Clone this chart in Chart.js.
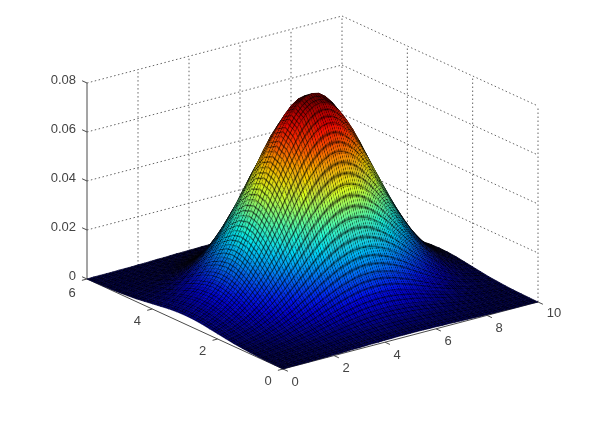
<!DOCTYPE html>
<html>
<head>
<meta charset="utf-8">
<style>
  html, body { margin: 0; padding: 0; background: #fff; }
  canvas { display: block; }
</style>
<script src="https://cdn.jsdelivr.net/npm/chart.js@4"></script>
</head>
<body>
<canvas id="myChart" width="603" height="421"></canvas>
<script>
var xTicks = [0, 2, 4, 6, 8, 10];
var yTicks = [0, 2, 4, 6];
var zTicks = [0, 0.02, 0.04, 0.06, 0.08];
var zTickLabels = ['0', '0.02', '0.04', '0.06', '0.08'];

var xMesh = [0, .25, .5, .75, 1, 1.25, 1.5, 1.75, 2, 2.25, 2.5, 2.75, 3, 3.25, 3.5, 3.75, 4, 4.25, 4.5, 4.75, 5,
    5.25, 5.5, 5.75, 6, 6.25, 6.5, 6.75, 7, 7.25, 7.5, 7.75, 8, 8.25, 8.5, 8.75, 9, 9.25, 9.5, 9.75, 10];
var yMesh = [0, .25, .5, .75, 1, 1.25, 1.5, 1.75, 2, 2.25, 2.5, 2.75, 3, 3.25, 3.5, 3.75, 4, 4.25, 4.5, 4.75, 5, 5.25, 5.5, 5.75, 6];

// heights, one row per yMesh value
var zUnit = 0.000101;
var zRows = [
    [0,1,1,1,1,2,2,2,3,3,4,5,5,6,7,7,8,8,9,9,9,9,9,8,8,7,7,6,5,5,4,3,3,2,2,2,1,1,1,1,0],
    [1,1,1,2,2,3,4,5,6,7,8,10,11,12,14,15,16,17,17,18,18,18,17,17,16,15,14,12,11,10,8,7,6,5,4,3,2,2,1,1,1],
    [2,2,3,4,5,6,8,9,11,14,16,19,21,24,26,29,31,33,34,35,35,35,34,33,31,29,26,24,21,19,16,14,11,9,8,6,5,4,3,2,2],
    [3,4,5,7,9,11,14,17,20,24,29,33,38,43,48,52,56,59,61,63,63,63,61,59,56,52,48,43,38,33,29,24,20,17,14,11,9,7,5,4,3],
    [5,6,9,11,15,19,23,29,35,42,49,57,66,74,82,89,95,101,105,107,108,107,105,101,95,89,82,74,66,57,49,42,35,29,23,19,15,11,9,6,5],
    [8,10,14,18,23,30,37,46,56,67,79,91,104,117,130,141,152,160,167,171,172,171,167,160,152,141,130,117,104,91,79,67,56,46,37,30,23,18,14,10,8],
    [11,15,21,27,35,44,56,69,84,100,118,137,156,176,195,212,228,240,250,256,258,256,250,240,228,212,195,176,156,137,118,100,84,69,56,44,35,27,21,15,11],
    [16,22,29,38,49,63,79,97,118,141,167,193,221,248,275,299,321,339,353,361,364,361,353,339,321,299,275,248,221,193,167,141,118,97,79,63,49,38,29,22,16],
    [21,29,38,51,65,83,104,129,157,188,221,257,293,329,365,397,426,450,468,479,483,479,468,450,426,397,365,329,293,257,221,188,157,129,104,83,65,51,38,29,21],
    [26,36,48,63,81,104,130,160,195,234,275,319,365,410,454,494,530,560,582,596,601,596,582,560,530,494,454,410,365,319,275,234,195,160,130,104,81,63,48,36,26],
    [31,42,56,73,95,121,152,187,228,273,321,373,426,479,530,577,620,654,680,697,702,697,680,654,620,577,530,479,426,373,321,273,228,187,152,121,95,73,56,42,31],
    [34,46,61,81,104,133,167,206,250,300,353,409,468,526,582,634,680,719,747,765,771,765,747,719,680,634,582,526,468,409,353,300,250,206,167,133,104,81,61,46,34],
    [35,47,63,83,108,137,172,213,258,309,364,423,483,543,601,655,702,742,771,790,796,790,771,742,702,655,601,543,483,423,364,309,258,213,172,137,108,83,63,47,35],
    [34,46,61,81,104,133,167,206,250,300,353,409,468,526,582,634,680,719,747,765,771,765,747,719,680,634,582,526,468,409,353,300,250,206,167,133,104,81,61,46,34],
    [31,42,56,73,95,121,152,187,228,273,321,373,426,479,530,577,620,654,680,697,702,697,680,654,620,577,530,479,426,373,321,273,228,187,152,121,95,73,56,42,31],
    [26,36,48,63,81,104,130,160,195,234,275,319,365,410,454,494,530,560,582,596,601,596,582,560,530,494,454,410,365,319,275,234,195,160,130,104,81,63,48,36,26],
    [21,29,38,51,65,83,104,129,157,188,221,257,293,329,365,397,426,450,468,479,483,479,468,450,426,397,365,329,293,257,221,188,157,129,104,83,65,51,38,29,21],
    [16,22,29,38,49,63,79,97,118,141,167,193,221,248,275,299,321,339,353,361,364,361,353,339,321,299,275,248,221,193,167,141,118,97,79,63,49,38,29,22,16],
    [11,15,21,27,35,44,56,69,84,100,118,137,156,176,195,212,228,240,250,256,258,256,250,240,228,212,195,176,156,137,118,100,84,69,56,44,35,27,21,15,11],
    [8,10,14,18,23,30,37,46,56,67,79,91,104,117,130,141,152,160,167,171,172,171,167,160,152,141,130,117,104,91,79,67,56,46,37,30,23,18,14,10,8],
    [5,6,9,11,15,19,23,29,35,42,49,57,66,74,82,89,95,101,105,107,108,107,105,101,95,89,82,74,66,57,49,42,35,29,23,19,15,11,9,6,5],
    [3,4,5,7,9,11,14,17,20,24,29,33,38,43,48,52,56,59,61,63,63,63,61,59,56,52,48,43,38,33,29,24,20,17,14,11,9,7,5,4,3],
    [2,2,3,4,5,6,8,9,11,14,16,19,21,24,26,29,31,33,34,35,35,35,34,33,31,29,26,24,21,19,16,14,11,9,8,6,5,4,3,2,2],
    [1,1,1,2,2,3,4,5,6,7,8,10,11,12,14,15,16,17,17,18,18,18,17,17,16,15,14,12,11,10,8,7,6,5,4,3,2,2,1,1,1],
    [0,1,1,1,1,2,2,2,3,3,4,5,5,6,7,7,8,8,9,9,9,9,9,8,8,7,7,6,5,5,4,3,3,2,2,2,1,1,1,1,0]
];

var xMax = 10, yMax = 6, zMax = 0.08;

// 3d view: screen position of the front corner and of the three axis ends
function project(x, y, z) {
    return {
        x: 283 + x / xMax * 255 - y / yMax * 196,
        y: 369 - x / xMax * 67 - y / yMax * 90 - z / zMax * 196
    };
}

function clamp(v) {
    return Math.max(0, Math.min(1, v));
}

// jet colormap, k darkens it where the mesh lines bunch up
function jet(t, k) {
    var r = clamp(1.5 - Math.abs(4 * t - 3));
    var g = clamp(1.5 - Math.abs(4 * t - 2));
    var b = clamp(1.5 - Math.abs(4 * t - 1));
    return 'rgb(' + Math.round(r * k * 255) + ',' + Math.round(g * k * 255) + ',' + Math.round(b * k * 255) + ')';
}

var ctx = document.getElementById('myChart').getContext('2d');

// one surface cell holds three mesh squares each way
var tile = document.createElement('canvas');
tile.width = 12;
tile.height = 12;
var tc = tile.getContext('2d');
tc.fillStyle = 'rgba(0,0,0,0.6)';
for (var t = 0; t < 3; t++) {
    tc.fillRect(t * 4, 0, 1, 12);
    tc.fillRect(0, t * 4, 12, 1);
}

function meshPattern(p00, p10, p11, p01) {
    var pat = ctx.createPattern(tile, 'repeat');
    var ax = (p10.x - p00.x + p11.x - p01.x) / 2 / 12, ay = (p10.y - p00.y + p11.y - p01.y) / 2 / 12;
    var bx = (p01.x - p00.x + p11.x - p10.x) / 2 / 12, by = (p01.y - p00.y + p11.y - p10.y) / 2 / 12;
    pat.setTransform(new DOMMatrix([ax, ay, bx, by, p00.x, p00.y]));
    return pat;
}

function cellArea(a, b, c, d) {
    return Math.abs((c.x - a.x) * (d.y - b.y) - (c.y - a.y) * (d.x - b.x)) / 2;
}

var datasets = [];

// first dataset is painted last, so the front cells come first
for (var i = 0; i < xMesh.length - 1; i++) {
    for (var j = 0; j < yMesh.length - 1; j++) {
        var z00 = zRows[j][i] * zUnit, z10 = zRows[j][i + 1] * zUnit;
        var z11 = zRows[j + 1][i + 1] * zUnit, z01 = zRows[j + 1][i] * zUnit;
        var p00 = project(xMesh[i], yMesh[j], z00), p10 = project(xMesh[i + 1], yMesh[j], z10);
        var p11 = project(xMesh[i + 1], yMesh[j + 1], z11), p01 = project(xMesh[i], yMesh[j + 1], z01);
        var outline = [p00, p10, p11, p01, p00];

        var area = cellArea(p00, p10, p11, p01);
        var k = area * area / (area * area + 2000);

        // colour runs from the lowest to the highest corner of the cell
        var corners = [[z00, p00], [z10, p10], [z11, p11], [z01, p01]].sort(function (a, b) { return a[0] - b[0]; });
        var low = corners[0], high = corners[3];
        var grad = ctx.createLinearGradient(low[1].x, low[1].y, high[1].x, high[1].y);
        grad.addColorStop(0, jet(low[0] / zMax, k));
        grad.addColorStop(1, jet(high[0] / zMax, k));

        datasets.push({ data: outline, backgroundColor: meshPattern(p00, p10, p11, p01), borderWidth: 0, borderColor: 'rgba(0,0,0,0)', fill: 'shape' });
        datasets.push({ data: outline, backgroundColor: grad, borderColor: grad, borderWidth: 0.7, fill: 'shape' });
    }
}

function addLine(a, b, color, dash, width) {
    datasets.push({
        data: [project(a[0], a[1], a[2]), project(b[0], b[1], b[2])],
        borderColor: color,
        borderWidth: width,
        borderDash: dash,
        fill: false
    });
}

var axisColor = '#4a4a4a', gridColor = '#666666', dots = [1.5, 2.5];

// axis lines and ticks
addLine([0, 0, 0], [xMax, 0, 0], axisColor, [], 1);
addLine([0, 0, 0], [0, yMax, 0], axisColor, [], 1);
addLine([0, yMax, 0], [0, yMax, zMax], axisColor, [], 1);
xTicks.forEach(function (v) { addLine([v, 0, 0], [v, -0.15, 0], axisColor, [], 1); });
yTicks.forEach(function (v) { addLine([0, v, 0], [-0.2, v, 0], axisColor, [], 1); });
zTicks.forEach(function (v) { addLine([0, yMax, v], [0, yMax + 0.15, v], axisColor, [], 1); });

// dotted grid on the two back walls
zTicks.slice(1).forEach(function (v) {
    addLine([0, yMax, v], [xMax, yMax, v], gridColor, dots, 1);
    addLine([xMax, yMax, v], [xMax, 0, v], gridColor, dots, 1);
});
xTicks.slice(1).forEach(function (v) { addLine([v, yMax, 0], [v, yMax, zMax], gridColor, dots, 1); });
yTicks.slice(0, -1).forEach(function (v) { addLine([xMax, v, 0], [xMax, v, zMax], gridColor, dots, 1); });

var tickText = {
    id: 'tickText',
    afterDraw: function (chart) {
        var c = chart.ctx, sx = chart.scales.x, sy = chart.scales.y;
        function put(p, dx, dy, txt, align) {
            c.textAlign = align;
            c.fillText(txt, sx.getPixelForValue(p.x) + dx, sy.getPixelForValue(p.y) + dy);
        }
        c.save();
        c.font = '13px "Liberation Sans"';
        c.fillStyle = '#444444';
        c.textBaseline = 'middle';
        xTicks.forEach(function (v) { put(project(v, 0, 0), v === 10 ? 16 : 12, v === 10 ? 11 : 13, String(v), 'center'); });
        yTicks.forEach(function (v) { put(project(0, v, 0), -15, v === 6 ? 14 : 12, String(v), 'center'); });
        zTicks.forEach(function (v, k) { put(project(0, yMax, v), -11, -3, zTickLabels[k], 'right'); });
        c.restore();
    }
};

var myChart = new Chart(ctx, {
    type: 'scatter',
    data: { datasets: datasets },
    options: {
        responsive: false,
        animation: false,
        showLine: true,
        clip: false,
        layout: { padding: 0 },
        elements: { point: { radius: 0 }, line: { tension: 0 } },
        plugins: { legend: { display: false }, tooltip: { enabled: false } },
        scales: {
            x: { type: 'linear', display: false, min: 0, max: 603 },
            y: { type: 'linear', display: false, min: 0, max: 421, reverse: true }
        }
    },
    plugins: [tickText]
});
</script>
</body>
</html>
